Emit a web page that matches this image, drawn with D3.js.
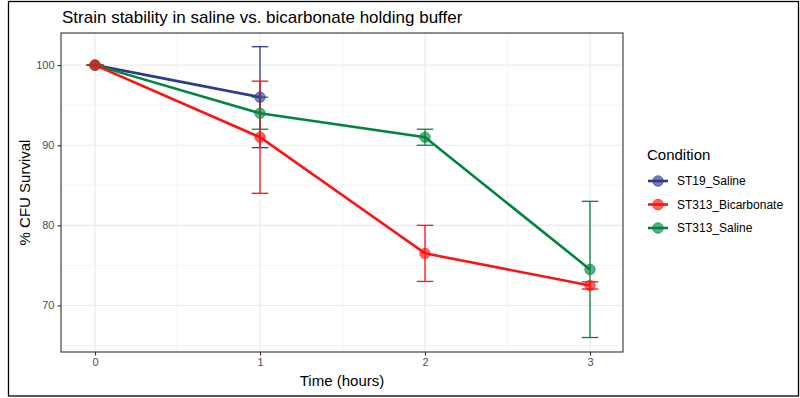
<!DOCTYPE html>
<html><head><meta charset="utf-8">
<script src="https://cdn.jsdelivr.net/npm/d3@7"></script>
<style>body{margin:0;background:#fff;} text{font-family:"Liberation Sans",Arial,sans-serif;}</style>
</head><body>
<svg id="c" width="800" height="398"></svg>
<script>
const times = [0, 1, 2, 3];
const conditions = ["ST19_Saline", "ST313_Bicarbonate", "ST313_Saline"];
const colors = ["#2D3B8E", "#FF1111", "#00853F"];
const st19Mean = [100, 96];
const st19Err = [0, 6.3];
const bicarbMean = [100, 91, 76.5, 72.5];
const bicarbErr = [0, 7, 3.5, 0.45];
const salineMean = [100, 94, 91, 74.5];
const salineErr = [0, 2, 1, 8.5];
const yTicks = [70, 80, 90, 100];
const xTicks = [0, 1, 2, 3];

const series = [
  {name: conditions[0], color: colors[0], mean: st19Mean, err: st19Err},
  {name: conditions[1], color: colors[1], mean: bicarbMean, err: bicarbErr},
  {name: conditions[2], color: colors[2], mean: salineMean, err: salineErr}
];
const drawOrder = [series[0], series[2], series[1]];

const svg = d3.select("#c");
const P = {l: 61, r: 623, t: 33, b: 352};
const x = d3.scaleLinear().domain([(P.l - 95) / 165, (P.r - 95) / 165]).range([P.l, P.r]);
const y = d3.scaleLinear().domain([64.19, 104.01]).range([P.b, P.t]);

// outer frame
svg.append("rect").attr("x", 8.5).attr("y", 1.5).attr("width", 790).attr("height", 394.5)
  .attr("fill", "none").attr("stroke", "#000").attr("stroke-width", 1.3);

const g = svg.append("g");
// grid
const minorY = [65, 75, 85, 95];
const minorX = [0.5, 1.5, 2.5];
g.selectAll(".gy2").data(minorY).join("line").attr("x1", P.l).attr("x2", P.r)
  .attr("y1", d => y(d)).attr("y2", d => y(d)).attr("stroke", "#EBEBEB").attr("stroke-width", 0.6);
g.selectAll(".gx2").data(minorX).join("line").attr("y1", P.t).attr("y2", P.b)
  .attr("x1", d => x(d)).attr("x2", d => x(d)).attr("stroke", "#EBEBEB").attr("stroke-width", 0.6);
g.selectAll(".gy").data(yTicks).join("line").attr("x1", P.l).attr("x2", P.r)
  .attr("y1", d => y(d)).attr("y2", d => y(d)).attr("stroke", "#EBEBEB").attr("stroke-width", 1.1);
g.selectAll(".gx").data(xTicks).join("line").attr("y1", P.t).attr("y2", P.b)
  .attr("x1", d => x(d)).attr("x2", d => x(d)).attr("stroke", "#EBEBEB").attr("stroke-width", 1.1);

// lines
const line = d3.line().x((d, i) => x(times[i])).y(d => y(d));
drawOrder.forEach(s => {
  g.append("path").attr("d", line(s.mean)).attr("fill", "none")
    .attr("stroke", s.color).attr("stroke-width", 2.6);
});
// errorbars
const hw = 0.05;
drawOrder.forEach(s => {
  s.mean.forEach((m, i) => {
    const t = times[i], e = s.err[i];
    const eg = g.append("g").attr("stroke", s.color).attr("stroke-width", 1.3);
    eg.append("line").attr("x1", x(t)).attr("x2", x(t)).attr("y1", y(m + e)).attr("y2", y(m - e));
    eg.append("line").attr("x1", x(t - hw)).attr("x2", x(t + hw)).attr("y1", y(m + e)).attr("y2", y(m + e));
    eg.append("line").attr("x1", x(t - hw)).attr("x2", x(t + hw)).attr("y1", y(m - e)).attr("y2", y(m - e));
  });
});
// points
drawOrder.forEach(s => {
  g.selectAll(null).data(s.mean).join("circle")
    .attr("cx", (d, i) => x(times[i])).attr("cy", d => y(d)).attr("r", 5.3)
    .attr("fill", s.color).attr("fill-opacity", 0.65)
    .attr("stroke", s.color).attr("stroke-opacity", 0.65).attr("stroke-width", 0.8);
});

// panel border
svg.append("rect").attr("x", P.l).attr("y", P.t).attr("width", P.r - P.l).attr("height", P.b - P.t)
  .attr("fill", "none").attr("stroke", "#333333").attr("stroke-width", 1.1);

// axes
const yAxis = svg.append("g").attr("transform", `translate(${P.l},0)`)
  .call(d3.axisLeft(y).tickValues(yTicks).tickFormat(d3.format("d")).tickSize(3.5).tickPadding(3));
const xAxis = svg.append("g").attr("transform", `translate(0,${P.b})`)
  .call(d3.axisBottom(x).tickValues(xTicks).tickFormat(d3.format("d")).tickSize(3.5).tickPadding(3));
[yAxis, xAxis].forEach(a => {
  a.attr("font-size", null).attr("font-family", null);
  a.select(".domain").remove();
  a.selectAll(".tick line").attr("stroke", "#333333").attr("stroke-width", 1.1);
  a.selectAll(".tick text").attr("fill", "#4D4D4D").style("font-size", "11px")
    .style("font-family", "'Liberation Sans',Arial,sans-serif");
});

// titles
svg.append("text").attr("x", 62).attr("y", 23).text("Strain stability in saline vs. bicarbonate holding buffer")
  .style("font-size", "17px").attr("fill", "#000");
svg.append("text").attr("x", (P.l + P.r) / 2).attr("y", 386).attr("text-anchor", "middle")
  .text("Time (hours)").style("font-size", "15px").attr("fill", "#000");
svg.append("text").attr("transform", `translate(30,${(P.t + P.b) / 2}) rotate(-90)`)
  .attr("text-anchor", "middle").text("% CFU Survival").style("font-size", "15px").attr("fill", "#000");

// legend
const lg = svg.append("g");
lg.append("text").attr("x", 647).attr("y", 160).text("Condition").style("font-size", "15px");
series.forEach((s, i) => {
  const yy = 181 + i * 23.5;
  lg.append("line").attr("x1", 648).attr("x2", 668).attr("y1", yy).attr("y2", yy)
    .attr("stroke", s.color).attr("stroke-width", 2.6);
  lg.append("circle").attr("cx", 658).attr("cy", yy).attr("r", 5.3)
    .attr("fill", s.color).attr("fill-opacity", 0.65).attr("stroke", s.color).attr("stroke-opacity", 0.65);
  lg.append("text").attr("x", 677).attr("y", yy + 4).text(s.name).style("font-size", "12px").attr("fill", "#000");
});
</script>
</body></html>
